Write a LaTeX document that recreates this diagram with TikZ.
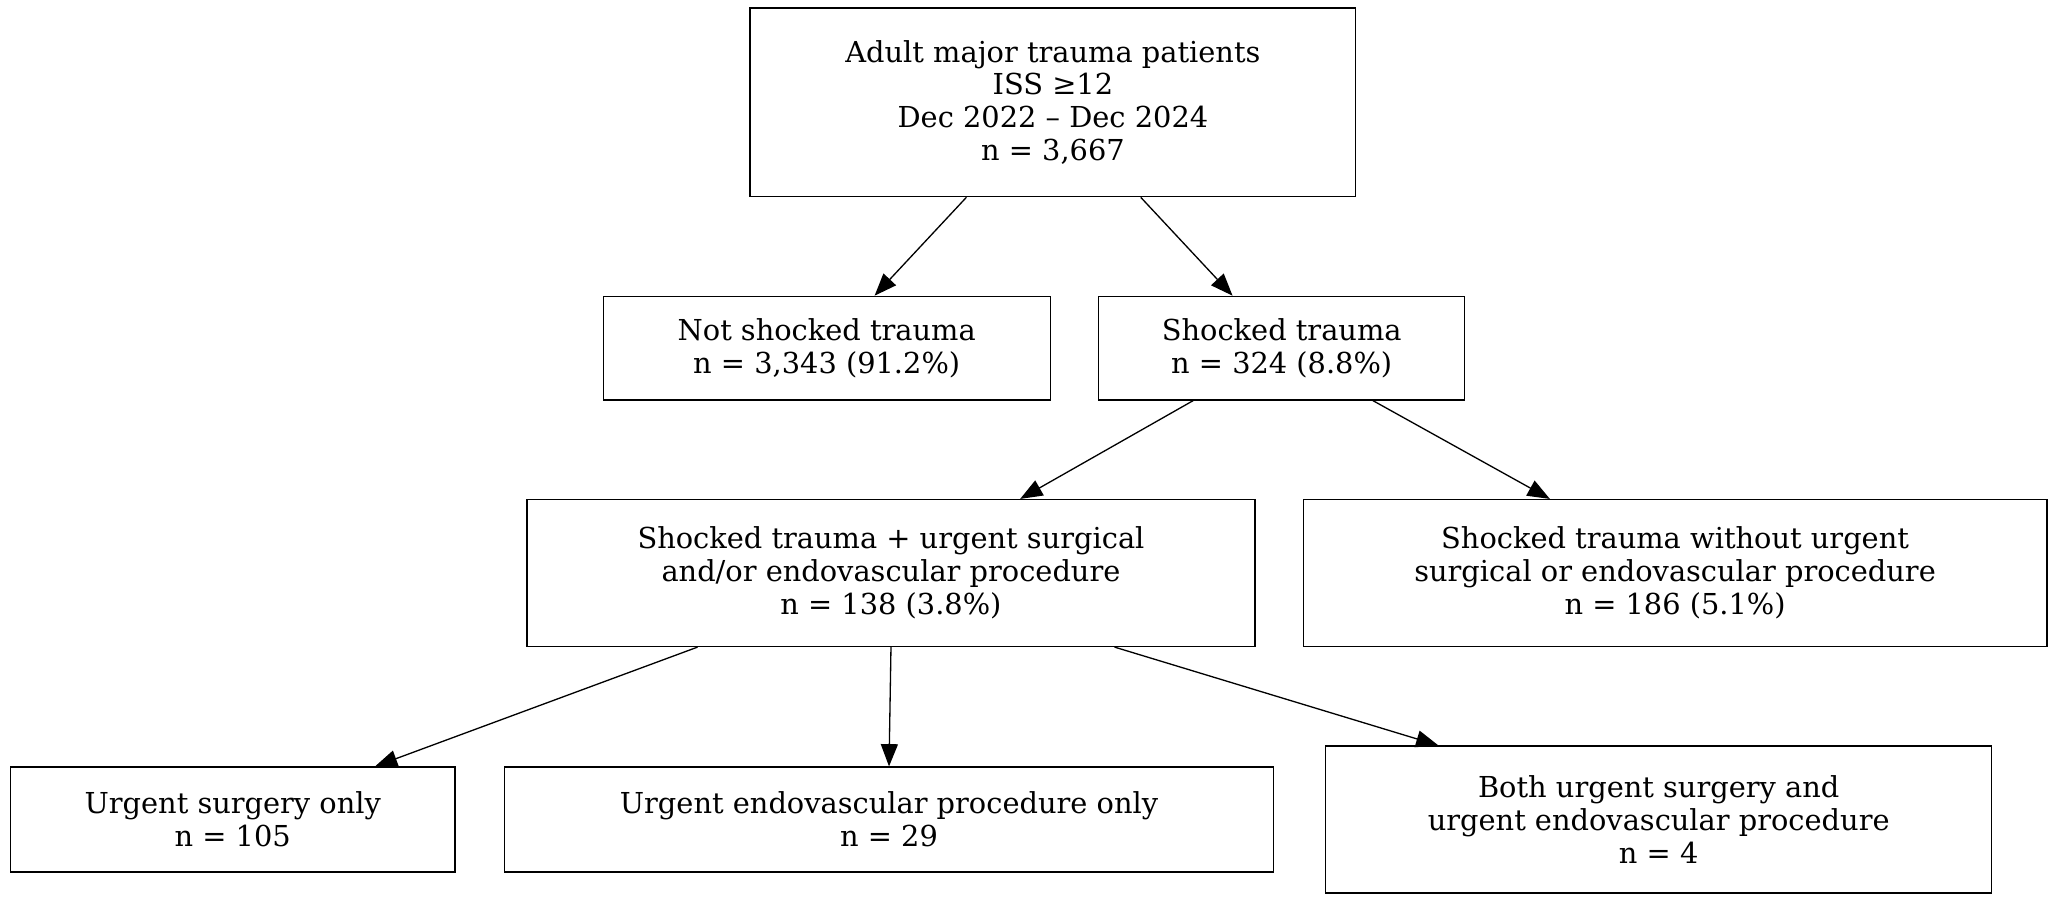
\documentclass[tikz,border=0pt]{standalone}
\usepackage{fontspec}
\setmainfont{DejaVu Serif}
\usetikzlibrary{arrows.meta}
\begin{document}
\begin{tikzpicture}[x=1pt,y=-1pt,
 box/.style={draw,line width=1pt,align=center,inner sep=0pt,font=\fontsize{22}{25}\selectfont},
 arr/.style={line width=1pt,-{Triangle[length=17pt,width=13pt]}}]
\useasboundingbox (0,0) rectangle (1568,688);
\node[box,minimum width=462,minimum height=144] (top) at (803,78) {Adult major trauma patients\\ISS ≥12\\Dec 2022 – Dec 2024\\n = 3,667};
\node[box,minimum width=341,minimum height=79] (ns) at (630.5,265.5) {Not shocked trauma\\n = 3,343 (91.2\%)};
\node[box,minimum width=279,minimum height=79] (sh) at (977.5,265.5) {Shocked trauma\\n = 324 (8.8\%)};
\node[box,minimum width=555,minimum height=112] (surg) at (679.5,437) {Shocked trauma + urgent surgical\\and/or endovascular procedure\\n = 138 (3.8\%)};
\node[box,minimum width=567,minimum height=112] (wo) at (1277.5,437) {Shocked trauma without urgent\\surgical or endovascular procedure\\n = 186 (5.1\%)};
\node[box,minimum width=339,minimum height=80] (uso) at (177.5,625) {Urgent surgery only\\n = 105};
\node[box,minimum width=586,minimum height=80] (endo) at (678,625) {Urgent endovascular procedure only\\n = 29};
\node[box,minimum width=508,minimum height=112] (both) at (1265,625) {Both urgent surgery and\\urgent endovascular procedure\\n = 4};
\draw[arr] ([xshift=-66]top.south) -- ([xshift=36.5]ns.north);
\draw[arr] ([xshift=67]top.south) -- ([xshift=-37.5]sh.north);
\draw[arr] ([xshift=-67.5]sh.south) -- ([xshift=98.5]surg.north);
\draw[arr] ([xshift=69.5]sh.south) -- ([xshift=-95.5]wo.north);
\draw[arr] ([xshift=-147.5]surg.south) -- ([xshift=108.5]uso.north);
\draw[arr] (surg.south) -- (endo.north);
\draw[arr] ([xshift=170.5]surg.south) -- ([xshift=-168]both.north);
\end{tikzpicture}
\end{document}
